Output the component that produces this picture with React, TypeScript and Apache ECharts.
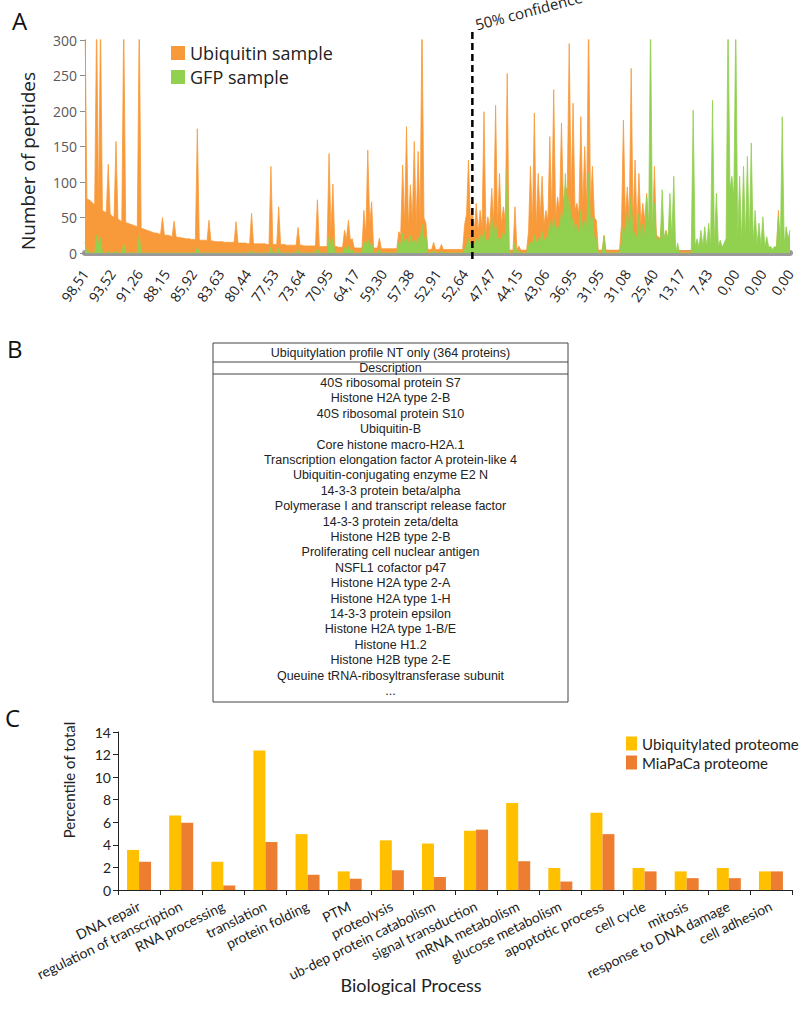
import React, { useEffect, useRef } from 'react';
import * as echarts from 'echarts';

// ---------- Panel A data (one value per protein, ranked by confidence) ----------
const xTickLabels = ['98,51', '93,52', '91,26', '88,15', '85,92', '83,63', '80,44', '77,53', '73,64', '70,95', '64,17', '59,30', '57,38', '52,91', '52,64', '47,47', '44,15', '43,06', '36,95', '31,95', '31,08', '25,40', '13,17', '7,43', '0,00', '0,00', '0,00'];
const labelStep = 14;

const ubiquitinSample = [
  330, 76, 75, 73, 70, 68, 330, 62, 330, 60, 58, 57, 125, 55, 52, 50, 157, 48, 46, 44,
  330, 43, 42, 41, 40, 39, 38, 37, 330, 35, 34, 33, 32, 31, 30, 29, 28, 28, 27, 26,
  50, 25, 25, 25, 24, 23, 45, 23, 22, 22, 21, 21, 20, 20, 20, 19, 19, 19, 175, 18,
  18, 18, 18, 17, 46, 17, 17, 16, 16, 16, 16, 16, 15, 15, 15, 15, 15, 15, 44, 14,
  14, 14, 14, 14, 13, 13, 56, 13, 13, 13, 13, 13, 13, 13, 12, 12, 122, 12, 12, 12,
  65, 12, 12, 12, 11, 11, 11, 11, 11, 11, 36, 11, 11, 10, 10, 10, 10, 10, 10, 10,
  75, 9, 9, 9, 9, 9, 140, 30, 97, 9, 9, 8, 8, 8, 32, 20, 46, 18, 20, 7,
  7, 7, 7, 7, 60, 25, 145, 40, 72, 7, 7, 7, 21, 6, 6, 6, 6, 6, 6, 6,
  6, 6, 30, 25, 124, 40, 178, 35, 96, 45, 157, 40, 143, 45, 330, 50, 42, 5, 5, 5,
  15, 5, 5, 5, 12, 5, 5, 5, 5, 5, 5, 5, 5, 5, 5, 5, 40, 55, 131, 45,
  60, 30, 70, 30, 60, 35, 199, 30, 51, 35, 91, 40, 208, 35, 112, 40, 65, 45, 253, 4,
  4, 4, 65, 4, 10, 4, 4, 4, 4, 30, 122, 40, 197, 35, 112, 50, 108, 40, 60, 45,
  164, 55, 230, 50, 79, 60, 183, 70, 93, 90, 295, 80, 211, 60, 70, 55, 192, 65, 150, 60,
  330, 70, 122, 50, 46, 4, 4, 4, 25, 4, 4, 4, 4, 4, 4, 4, 4, 40, 187, 50,
  93, 45, 260, 40, 131, 35, 112, 40, 70, 45, 84, 40, 60, 30, 122, 25, 23, 20, 50, 20,
  32, 20, 40, 15, 20, 4, 4, 3, 3, 3, 3, 3, 3, 3, 3, 3, 3, 3, 3, 3,
  3, 3, 3, 3, 3, 3, 3, 3, 3, 3, 3, 3, 3, 3, 3, 3, 3, 3, 3, 3,
  3, 3, 3, 3, 3, 3, 3, 3, 3, 3, 3, 3, 3, 3, 3, 3, 3, 3, 60, 3,
  3, 3, 3, 3, 3,
];

const gfpSample = [
  15, 0, 2, 0, 0, 0, 25, 12, 22, 0, 0, 0, 2, 0, 0, 0, 2, 0, 0, 0,
  12, 0, 0, 0, 0, 0, 0, 0, 25, 0, 0, 0, 0, 0, 0, 0, 0, 0, 0, 0,
  0, 0, 0, 0, 0, 0, 0, 0, 0, 0, 0, 0, 0, 0, 0, 0, 0, 0, 8, 0,
  0, 0, 0, 0, 0, 0, 0, 0, 0, 0, 0, 0, 0, 0, 0, 0, 0, 0, 0, 0,
  0, 0, 0, 0, 0, 0, 3, 0, 0, 0, 0, 0, 0, 0, 0, 0, 8, 0, 0, 0,
  7, 0, 0, 0, 0, 0, 0, 0, 0, 0, 5, 0, 0, 0, 0, 0, 0, 0, 0, 0,
  6, 0, 0, 0, 0, 0, 23, 10, 20, 0, 0, 0, 0, 0, 8, 4, 10, 3, 4, 0,
  0, 0, 0, 0, 16, 8, 20, 8, 15, 0, 0, 0, 5, 0, 0, 0, 0, 0, 0, 0,
  0, 0, 15, 12, 28, 14, 20, 12, 25, 14, 18, 12, 22, 15, 40, 18, 25, 0, 0, 0,
  3, 0, 0, 0, 2, 0, 0, 0, 0, 0, 0, 0, 0, 0, 0, 0, 5, 10, 20, 12,
  15, 12, 20, 14, 25, 15, 32, 16, 20, 18, 51, 20, 42, 18, 22, 16, 30, 20, 117, 0,
  0, 0, 14, 0, 3, 0, 0, 0, 0, 10, 15, 12, 25, 14, 20, 15, 30, 16, 22, 18,
  45, 25, 50, 30, 40, 30, 60, 40, 112, 50, 80, 40, 50, 30, 40, 25, 60, 30, 45, 35,
  112, 40, 50, 20, 20, 0, 0, 0, 24, 0, 0, 0, 0, 0, 0, 0, 0, 15, 40, 20,
  60, 25, 80, 20, 30, 18, 55, 20, 40, 22, 79, 30, 330, 25, 70, 18, 20, 15, 89, 20,
  30, 18, 84, 20, 108, 0, 14, 0, 0, 0, 0, 0, 0, 0, 201, 10, 20, 8, 32, 10,
  37, 8, 42, 10, 215, 12, 84, 10, 18, 8, 14, 20, 330, 90, 108, 80, 330, 20, 108, 15,
  122, 18, 136, 20, 155, 15, 60, 12, 42, 10, 51, 8, 23, 8, 9, 5, 9, 8, 51, 10,
  192, 12, 37, 20, 32,
];
const confidenceIndex = 200;

// ---------- Panel B data ----------
const tableTitle = 'Ubiquitylation profile NT only (364 proteins)';
const tableHeader = 'Description';
const proteins = [
  '40S ribosomal protein S7',
  'Histone H2A type 2-B',
  '40S ribosomal protein S10',
  'Ubiquitin-B',
  'Core histone macro-H2A.1',
  'Transcription elongation factor A protein-like 4',
  'Ubiquitin-conjugating enzyme E2 N',
  '14-3-3 protein beta/alpha',
  'Polymerase I and transcript release factor',
  '14-3-3 protein zeta/delta',
  'Histone H2B type 2-B',
  'Proliferating cell nuclear antigen',
  'NSFL1 cofactor p47',
  'Histone H2A type 2-A',
  'Histone H2A type 1-H',
  '14-3-3 protein epsilon',
  'Histone H2A type 1-B/E',
  'Histone H1.2',
  'Histone H2B type 2-E',
  'Queuine tRNA-ribosyltransferase subunit',
  '...',
];

// ---------- Panel C data ----------
const processes = ['DNA repair', 'regulation of transcription', 'RNA processing', 'translation', 'protein folding', 'PTM', 'proteolysis', 'ub-dep protein catabolism', 'signal transduction', 'mRNA metabolism', 'glucose metabolism', 'apoptotic process', 'cell cycle', 'mitosis', 'response to DNA damage', 'cell adhesion'];
const ubiquitylatedProteome = [3.55, 6.6, 2.5, 12.35, 4.95, 1.65, 4.4, 4.12, 5.25, 7.7, 1.95, 6.85, 1.95, 1.65, 1.95, 1.65];
const miaPaCaProteome = [2.5, 5.95, 0.4, 4.25, 1.35, 1.0, 1.75, 1.15, 5.35, 2.55, 0.75, 4.95, 1.65, 1.05, 1.05, 1.65];

const ORANGE = '#F99A3A';
const GREEN = '#92D050';
const YELLOW = '#FFC000';
const DARKORANGE = '#ED7D31';
const FA = '"Open Sans", sans-serif';
const FC = 'Lato, sans-serif';
const FB = '"Liberation Sans", Arial, sans-serif';

export default function App() {
  const ref = useRef<HTMLDivElement>(null);
  useEffect(() => {
    const chart = echarts.init(ref.current!, null, { renderer: 'svg' });
    const xIdx = ubiquitinSample.map((_, i) => String(i));
    const option: any = {
      animation: false,
      backgroundColor: '#fff',
      grid: [
        { left: 85, top: 40, width: 705, height: 213 },
        { left: 118, top: 732, width: 674, height: 158 },
      ],
      legend: [
        {
          data: [{ name: 'Ubiquitin sample', icon: 'rect' }, { name: 'GFP sample', icon: 'rect' }],
          orient: 'vertical', left: 166, top: 39, itemWidth: 14, itemHeight: 14, itemGap: 6,
          selectedMode: false,
          textStyle: { fontFamily: FA, fontSize: 18, color: '#222' },
        },
        {
          data: [{ name: 'Ubiquitylated proteome', icon: 'rect' }, { name: 'MiaPaCa proteome', icon: 'rect' }],
          orient: 'vertical', left: 621, top: 731, itemWidth: 11, itemHeight: 14, itemGap: 4,
          selectedMode: false,
          textStyle: { fontFamily: FC, fontSize: 15, color: '#222' },
        },
      ],
      xAxis: [
        {
          gridIndex: 0, type: 'category', data: xIdx, boundaryGap: false, offset: 3,
          axisLine: { lineStyle: { color: '#9a9a9a', width: 6 } },
          axisTick: { show: false },
          axisLabel: {
            interval: labelStep - 1, rotate: 55, margin: 15,
            fontFamily: FA, fontSize: 14, color: '#222',
            formatter: (_v: string, i: number) => (i % labelStep === 0 ? xTickLabels[i / labelStep] : ''),
          },
          splitLine: { show: false },
        },
        {
          gridIndex: 1, type: 'category', data: processes,
          axisLine: { lineStyle: { color: '#222', width: 1 } },
          axisTick: { show: true, length: 5, lineStyle: { color: '#222' } },
          axisLabel: { interval: 0, rotate: 26, margin: 15, fontFamily: FC, fontSize: 14, color: '#222' },
        },
      ],
      yAxis: [
        {
          gridIndex: 0, type: 'value', min: 0, max: 300, interval: 50,
          axisLine: { show: true, lineStyle: { color: '#8a8a8a' } },
          axisTick: { show: true, length: 5, lineStyle: { color: '#8a8a8a' } },
          splitLine: { show: false },
          axisLabel: { fontFamily: FA, fontSize: 14, color: '#595959', margin: 8 },
        },
        {
          gridIndex: 1, type: 'value', min: 0, max: 14, interval: 2,
          axisLine: { show: true, lineStyle: { color: '#222' } },
          axisTick: { show: true, length: 5, lineStyle: { color: '#222' } },
          splitLine: { show: false },
          axisLabel: { fontFamily: FC, fontSize: 14, color: '#222', margin: 7 },
        },
      ],
      series: [
        {
          name: 'Ubiquitin sample', type: 'line', xAxisIndex: 0, yAxisIndex: 0, data: ubiquitinSample,
          symbol: 'none', clip: true, z: 2,
          lineStyle: { width: 0.8, color: ORANGE }, itemStyle: { color: ORANGE },
          areaStyle: { color: ORANGE, opacity: 1 },
        },
        {
          name: 'GFP sample', type: 'line', xAxisIndex: 0, yAxisIndex: 0, data: gfpSample,
          symbol: 'none', clip: true, z: 3,
          lineStyle: { width: 0.8, color: GREEN }, itemStyle: { color: GREEN },
          areaStyle: { color: GREEN, opacity: 1 },
        },
        {
          name: 'Ubiquitylated proteome', type: 'bar', xAxisIndex: 1, yAxisIndex: 1, data: ubiquitylatedProteome,
          barWidth: 12, barGap: '0%', itemStyle: { color: YELLOW },
        },
        {
          name: 'MiaPaCa proteome', type: 'bar', xAxisIndex: 1, yAxisIndex: 1, data: miaPaCaProteome,
          barWidth: 12, barGap: '0%', itemStyle: { color: DARKORANGE },
        },
      ],
    };
    chart.setOption(option);

    const lx = chart.convertToPixel({ xAxisIndex: 0 }, confidenceIndex) as number;
    const tLeft = 213, tRight = 568, tTop = 343, tBottom = 702;
    const tCenter = (tLeft + tRight) / 2;
    const tFont = `12.5px ${FB}`;
    const graphic: any[] = [
      { type: 'text', x: 12, y: 8, style: { text: 'A', font: `24px ${FA}`, fill: '#111' } },
      { type: 'text', x: 7, y: 336, style: { text: 'B', font: `24px ${FA}`, fill: '#111' } },
      { type: 'text', x: 5, y: 705, style: { text: 'C', font: `24px ${FA}`, fill: '#111' } },
      {
        type: 'text', x: 28, y: 161, rotation: Math.PI / 2,
        style: { text: 'Number of peptides', font: `19px ${FA}`, fill: '#222', textAlign: 'center', textVerticalAlign: 'middle' },
      },
      {
        type: 'line', shape: { x1: lx, y1: 32, x2: lx, y2: 259 }, z: 10,
        style: { stroke: '#000', lineWidth: 2.5, lineDash: [7, 4] },
      },
      {
        type: 'text', x: lx + 5, y: 32, rotation: 0.26,
        style: { text: '50% confidence', font: `15px ${FA}`, fill: '#222', textAlign: 'left', textVerticalAlign: 'bottom' },
      },
      // table
      {
        type: 'rect', shape: { x: tLeft, y: tTop, width: tRight - tLeft, height: tBottom - tTop },
        style: { fill: 'none', stroke: '#444', lineWidth: 1 },
      },
      { type: 'line', shape: { x1: tLeft, y1: 362, x2: tRight, y2: 362 }, style: { stroke: '#444', lineWidth: 1 } },
      { type: 'line', shape: { x1: tLeft, y1: 374, x2: tRight, y2: 374 }, style: { stroke: '#444', lineWidth: 1 } },
      {
        type: 'text', x: tCenter, y: 353,
        style: { text: tableTitle, font: tFont, fill: '#222', textAlign: 'center', textVerticalAlign: 'middle' },
      },
      {
        type: 'text', x: tCenter, y: 368,
        style: { text: tableHeader, font: tFont, fill: '#222', textAlign: 'center', textVerticalAlign: 'middle' },
      },
      ...proteins.map((p, i) => ({
        type: 'text', x: tCenter, y: 383 + i * 15.4,
        style: { text: p, font: tFont, fill: '#222', textAlign: 'center', textVerticalAlign: 'middle' },
      })),
      {
        type: 'text', x: 69, y: 780, rotation: Math.PI / 2,
        style: { text: 'Percentile of total', font: `15px ${FC}`, fill: '#222', textAlign: 'center', textVerticalAlign: 'middle' },
      },
      {
        type: 'text', x: 411, y: 985,
        style: { text: 'Biological Process', font: `18px ${FC}`, fill: '#222', textAlign: 'center', textVerticalAlign: 'middle' },
      },
    ];
    chart.setOption({ graphic });
    return () => chart.dispose();
  }, []);
  return <div ref={ref} style={{ position: 'absolute', left: 0, top: 0, width: 800, height: 1014 }} />;
}
